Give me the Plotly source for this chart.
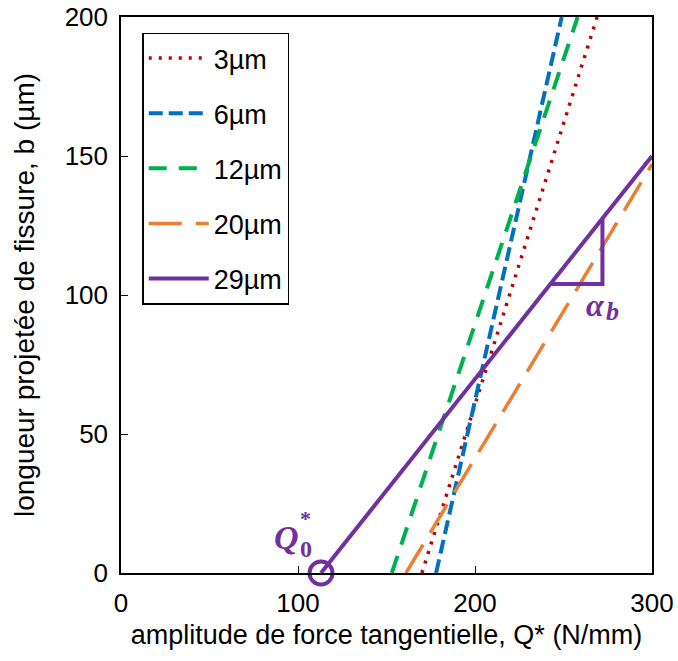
import plotly.graph_objects as go

# data
series_names = ["3µm", "6µm", "12µm", "20µm", "29µm"]
x_3 = [170, 269]
y_3 = [0, 200]
x_6 = [178, 249]
y_6 = [0, 200]
x_12 = [153, 258]
y_12 = [0, 200]
x_20 = [161, 300]
y_20 = [0, 147]
x_29 = [113, 300]
y_29 = [0, 150]
q0_point = [113, 0]
slope_tri_x = [242.6, 272, 272]
slope_tri_y = [104, 104, 127.5]
x_ticks = [0, 100, 200, 300]
y_ticks = [0, 50, 100, 150, 200]

colors = ["#C00000", "#0070C0", "#00B050", "#ED7D31", "#7030A0"]
dashes = ["3px,7px", "14px,6px", "18px,12px", "33px,14px", "solid"]
widths = [3.5, 4, 4, 3.5, 4]
xs = [x_3, x_6, x_12, x_20, x_29]
ys = [y_3, y_6, y_12, y_20, y_29]

fig = go.Figure()
for i, name in enumerate(series_names):
    fig.add_trace(go.Scatter(
        x=xs[i], y=ys[i], mode="lines", name=name,
        legendgroup=name,
        line=dict(color=colors[i], width=widths[i], dash=dashes[i]),
    ))

purple = "#7030A0"
# slope triangle
fig.add_trace(go.Scatter(
    x=slope_tri_x, y=slope_tri_y, mode="lines", showlegend=False,
    line=dict(color=purple, width=4), hoverinfo="skip",
))
# Q0 circle
fig.add_trace(go.Scatter(
    x=[q0_point[0]], y=[q0_point[1]], mode="markers", showlegend=False,
    marker=dict(symbol="circle-open", size=23, color=purple,
                line=dict(width=4, color=purple)),
    cliponaxis=False, hoverinfo="skip",
))

serif = "Liberation Serif"
fig.add_annotation(x=101.2, y=12.6, xref="x", yref="y", xanchor="right",
                   text="<b><i>Q</i></b>", borderpad=0,
                   showarrow=False, font=dict(family=serif, size=34, color=purple))
fig.add_annotation(x=100.6, y=8.8, xref="x", yref="y", xanchor="left",
                   text="<b>0</b>", borderpad=0,
                   showarrow=False, font=dict(family=serif, size=24, color=purple))
fig.add_annotation(x=100.6, y=19.5, xref="x", yref="y", xanchor="left",
                   text="<b>*</b>", borderpad=0,
                   showarrow=False, font=dict(family=serif, size=22, color=purple))
fig.add_annotation(x=273.8, y=96.5, xref="x", yref="y", xanchor="right",
                   text="<b><i>α</i></b>", borderpad=0,
                   showarrow=False, font=dict(family=serif, size=32, color=purple))
fig.add_annotation(x=273.2, y=94.2, xref="x", yref="y", xanchor="left",
                   text="<b><i>b</i></b>", borderpad=0,
                   showarrow=False, font=dict(family=serif, size=26, color=purple))

axis_common = dict(
    showgrid=False, zeroline=False, showline=True, linecolor="black",
    linewidth=1.5, mirror=True, ticks="inside", ticklen=7, tickwidth=1,
    tickcolor="black", automargin=False, ticklabeloverflow="allow",
    tickfont=dict(family="Liberation Sans", size=26, color="black"),
)
fig.update_xaxes(range=[0, 300], tickvals=x_ticks, ticklabelstandoff=6,
                 title=dict(text="amplitude de force tangentielle, Q* (N/mm)",
                            font=dict(family="Liberation Sans", size=27, color="black"),
                            standoff=8),
                 **axis_common)
fig.update_yaxes(range=[0, 200], tickvals=y_ticks, ticklabelstandoff=6,
                 title=dict(text="longueur projetée de fissure, b (µm)",
                            font=dict(family="Liberation Sans", size=28, color="black"),
                            standoff=22),
                 **axis_common)

fig.update_layout(
    width=678, height=661,
    margin=dict(l=121, r=26, t=17, b=88),
    plot_bgcolor="white", paper_bgcolor="white",
    showlegend=True,
    legend=dict(x=0.04, y=0.972, xanchor="left", yanchor="top",
                bgcolor="white", bordercolor="black", borderwidth=1.5,
                font=dict(family="Liberation Sans", size=27, color="black"),
                tracegroupgap=17, itemwidth=60),
)

fig.write_html("out.html", config={"displayModeBar": False},
               post_script="document.body.style.margin='0';document.body.style.overflow='hidden';")
